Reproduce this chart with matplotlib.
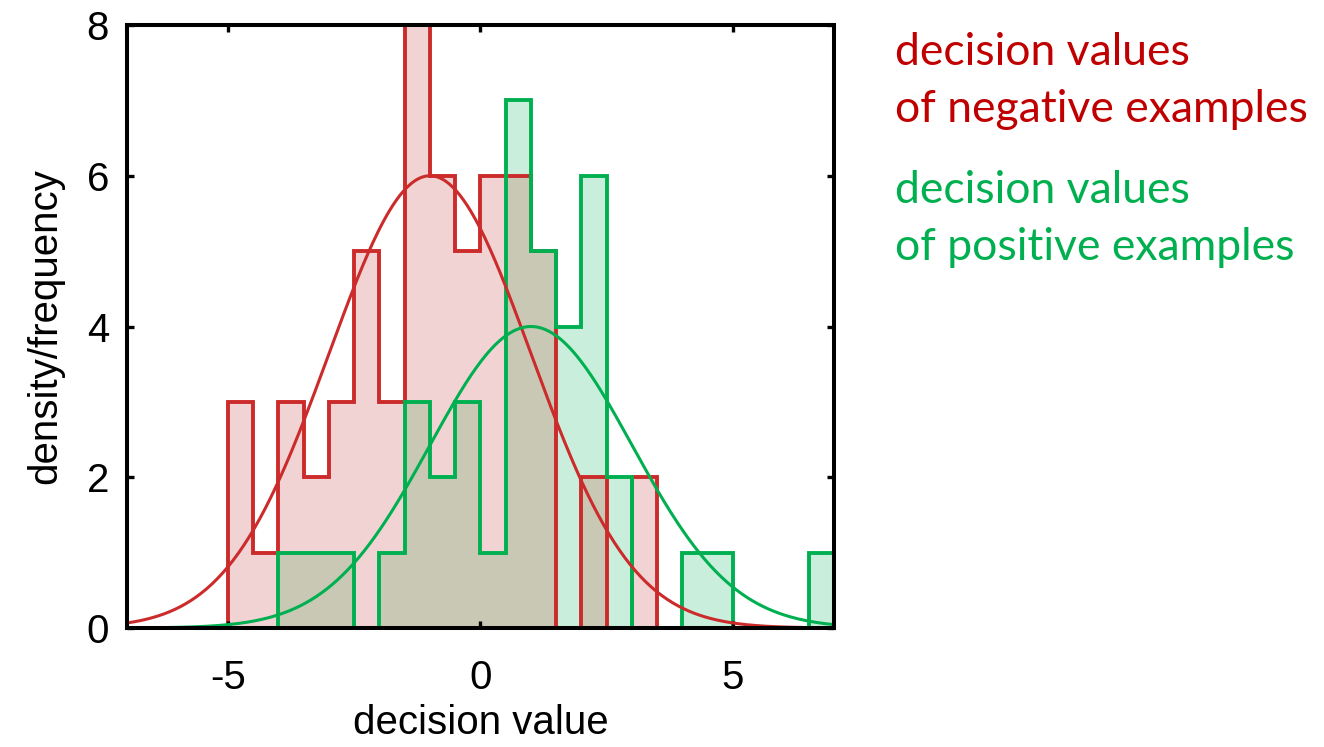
import numpy as np
import matplotlib
matplotlib.use("Agg")
import matplotlib.pyplot as plt

plt.rcParams["axes.unicode_minus"] = False

# Histogram counts on a shared grid of 0.5-wide bins from -5 to 7
edges = np.arange(-5.0, 7.01, 0.5)
neg_counts = np.array([3, 1, 3, 2, 3, 5, 3, 8, 6, 5, 6, 6, 5, 0, 2, 0, 2,
                       0, 0, 0, 0, 0, 0, 0])
pos_counts = np.array([0, 0, 1, 1, 1, 0, 1, 3, 2, 3, 1, 7, 5, 4, 6, 2, 0,
                       0, 1, 1, 0, 0, 0, 1])

# Fitted normal curves: (mean, sd, peak height)
neg_fit = (-1.0, 2.0, 6.0)
pos_fit = (1.0, 2.0, 4.0)

RED = "#CC2B2B"
GREEN = "#00B050"
RED_TEXT = "#C00000"

tick_font = ["Liberation Sans", "DejaVu Sans"]
note_font = ["Lato", "DejaVu Sans"]

fig = plt.figure(figsize=(13.24, 7.47), dpi=100)
ax = fig.add_axes([0.0959, 0.1593, 0.5340, 0.8072])

# filled areas: negatives, positives, and where both overlap
ax.stairs(neg_counts, edges, fill=True, color="#F2D3D4", lw=0)
ax.stairs(pos_counts, edges, fill=True, color="#C9EEDB", lw=0)
ax.stairs(np.minimum(neg_counts, pos_counts), edges, fill=True,
          color="#C9C8B5", lw=0)

# outlines (trimmed to the bins each series actually covers)
neg_nz = np.nonzero(neg_counts)[0]
pos_nz = np.nonzero(pos_counts)[0]
ax.stairs(neg_counts[neg_nz[0]:neg_nz[-1] + 1],
          edges[neg_nz[0]:neg_nz[-1] + 2], color=RED, lw=2.8)
ax.stairs(pos_counts[pos_nz[0]:pos_nz[-1] + 1],
          edges[pos_nz[0]:pos_nz[-1] + 2], color=GREEN, lw=2.8)

xs = np.linspace(-7, 7, 400)
for (mu, sd, peak), col in [(neg_fit, RED), (pos_fit, GREEN)]:
    ax.plot(xs, peak * np.exp(-0.5 * ((xs - mu) / sd) ** 2), color=col, lw=2.2)

ax.set_xlim(-7, 7)
ax.set_ylim(0, 8)
ax.set_xticks([-5, 0, 5])
ax.set_yticks([0, 2, 4, 6, 8])
ax.tick_params(direction="in", length=5, width=2.4, top=True, right=True,
               labelsize=29)
ax.tick_params(axis="x", pad=22)
ax.tick_params(axis="y", pad=13)
for lab in ax.get_xticklabels() + ax.get_yticklabels():
    lab.set_family(tick_font)
for sp in ax.spines.values():
    sp.set_linewidth(2.9)

ax.set_xlabel("decision value", fontsize=29, family=tick_font, labelpad=5)
ax.set_ylabel("density/frequency", fontsize=29, family=tick_font, labelpad=16)

legend_lines = [
    ("decision values", RED_TEXT, 65),
    ("of negative examples", RED_TEXT, 122),
    ("decision values", GREEN, 203),
    ("of positive examples", GREEN, 260),
]
for txt, col, base in legend_lines:
    fig.text(895 / 1324, 1 - base / 747, txt, color=col, fontsize=32,
             family=note_font, va="baseline", ha="left")

fig.savefig("out.png", dpi=100)
